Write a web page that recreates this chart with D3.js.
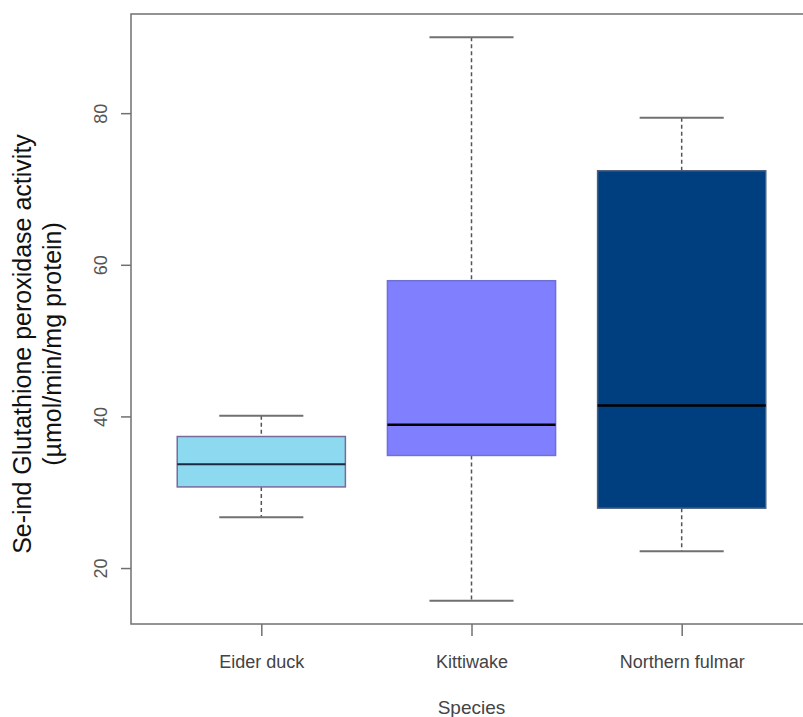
<!DOCTYPE html>
<html><head><meta charset="utf-8">
<script src="https://cdn.jsdelivr.net/npm/d3@7"></script>
<style>body{margin:0;background:#fff}svg{display:block}text{font-family:"Liberation Sans",Arial,sans-serif}</style>
</head><body><svg id="c" width="803" height="717"></svg>
<script>
const species = ["Eider duck", "Kittiwake", "Northern fulmar"];
const whiskerLow = [26.7, 15.7, 22.2];
const q1 = [30.7, 34.85, 27.9];
const median = [33.7, 38.9, 41.45];
const q3 = [37.35, 57.9, 72.4];
const whiskerHigh = [40.1, 90.0, 79.4];
const fills = ["#8dd9f0", "#8080ff", "#003f7f"];
const strokes = ["#7a6a9a", "#6f6fd8", "#4a5f80"];
const yTicks = [20, 40, 60, 80];
const yTitle = ["Se-ind Glutathione peroxidase activity", "(µmol/min/mg protein)"];
const xTitle = "Species";

const svg = d3.select("#c");
const pLeft = 131, pTop = 14, pBottom = 624, pRight = 812;
const y = d3.scaleLinear().domain([12.62, 93.08]).range([pBottom, pTop]);
const x = d3.scaleLinear().domain([0.38, 3.62]).range([pLeft, pRight]);
const boxW = x(1.4) - x(0.6);   // boxwex 0.8
const capW = boxW / 2;          // staplewex 0.5

// frame
svg.append("rect").attr("x", pLeft).attr("y", pTop).attr("width", pRight - pLeft).attr("height", pBottom - pTop)
  .attr("fill", "none").attr("stroke", "#707070").attr("stroke-width", 1.5);

// y axis
const yAxis = d3.axisLeft(y).tickValues(yTicks).tickSize(10).tickSizeOuter(0);
const gy = svg.append("g").attr("transform", `translate(${pLeft},0)`).call(yAxis);
gy.select(".domain").remove();
gy.selectAll(".tick line").attr("stroke", "#707070").attr("stroke-width", 1.5);
gy.selectAll(".tick text").attr("fill", "#555").attr("font-size", 18)
  .attr("x", null).attr("dy", null).attr("y", 0)
  .attr("text-anchor", "middle")
  .attr("transform", "translate(-24,0) rotate(-90)");

// x axis
const xAxis = d3.axisBottom(x).tickValues([1, 2, 3]).tickFormat((d) => species[d - 1]).tickSize(12).tickSizeOuter(0);
const gx = svg.append("g").attr("transform", `translate(0,${pBottom})`).call(xAxis);
gx.select(".domain").remove();
gx.selectAll(".tick line").attr("stroke", "#707070").attr("stroke-width", 1.5);
gx.selectAll(".tick text").attr("fill", "#444").attr("font-size", 18).attr("y", 31).attr("dy", "0.71em");

// boxes
species.forEach((s, i) => {
  const cx = x(i + 1);
  const g = svg.append("g");
  g.append("line").attr("x1", cx).attr("x2", cx).attr("y1", y(whiskerHigh[i])).attr("y2", y(q3[i]))
    .attr("stroke", "#555").attr("stroke-width", 1.5).attr("stroke-dasharray", "4,3");
  g.append("line").attr("x1", cx).attr("x2", cx).attr("y1", y(q1[i])).attr("y2", y(whiskerLow[i]))
    .attr("stroke", "#555").attr("stroke-width", 1.5).attr("stroke-dasharray", "4,3");
  [whiskerHigh[i], whiskerLow[i]].forEach(v => {
    g.append("line").attr("x1", cx - capW / 2).attr("x2", cx + capW / 2).attr("y1", y(v)).attr("y2", y(v))
      .attr("stroke", "#707070").attr("stroke-width", 2);
  });
  g.append("rect").attr("x", cx - boxW / 2).attr("y", y(q3[i])).attr("width", boxW).attr("height", y(q1[i]) - y(q3[i]))
    .attr("fill", fills[i]).attr("stroke", strokes[i]).attr("stroke-width", 1.5);
  g.append("line").attr("x1", cx - boxW / 2).attr("x2", cx + boxW / 2).attr("y1", y(median[i])).attr("y2", y(median[i]))
    .attr("stroke", i === 0 ? "#1a2a40" : "#000").attr("stroke-width", i === 0 ? 2 : 2.5);
});

// y title
const yt = svg.append("text").attr("transform", "translate(0,344) rotate(-90)").attr("text-anchor", "middle")
  .attr("font-size", 25).attr("fill", "#111");
yt.append("tspan").attr("x", 0).attr("y", 31).text(yTitle[0]);
yt.append("tspan").attr("x", 0).attr("y", 61).text(yTitle[1]);

// x title
svg.append("text").attr("x", x(2)).attr("y", 714).attr("text-anchor", "middle")
  .attr("font-size", 19).attr("fill", "#444").text(xTitle);
</script></body></html>
